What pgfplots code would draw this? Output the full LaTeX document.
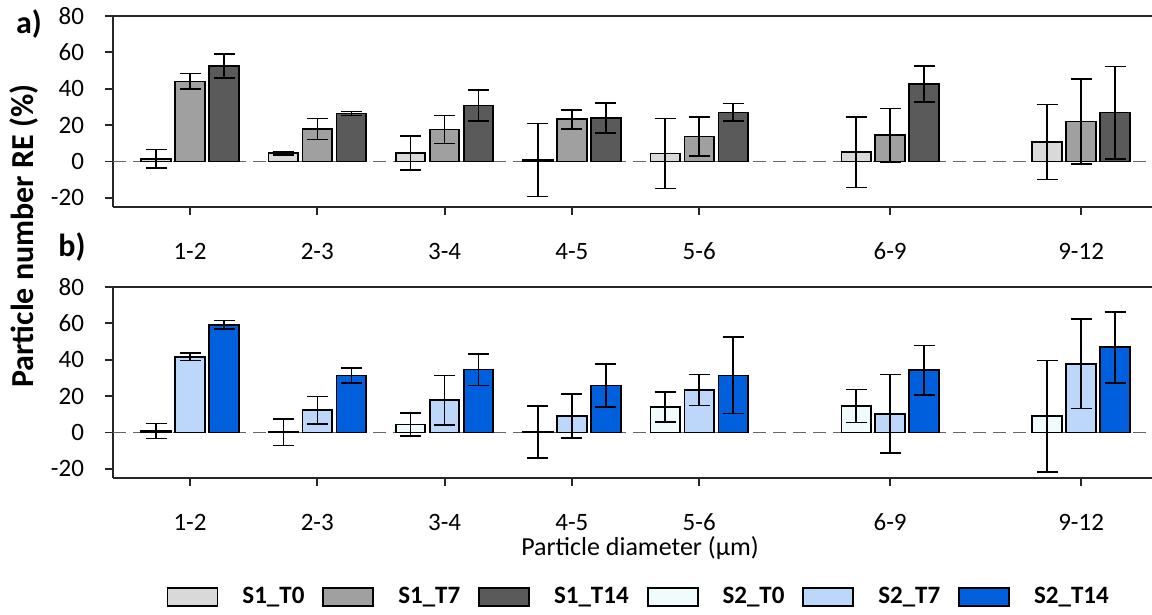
\documentclass[border=0pt]{standalone}
\usepackage{pgfplots}
\pgfplotsset{compat=1.18}
\usepackage{pgfplotstable}
\usepackage{fontspec}
\setmainfont{Carlito}

\definecolor{sAa}{HTML}{D9D9D9}
\definecolor{sAb}{HTML}{A0A0A0}
\definecolor{sAc}{HTML}{5A5A5A}
\definecolor{sBa}{HTML}{F0FBFB}
\definecolor{sBb}{HTML}{BDD7FA}
\definecolor{sBc}{HTML}{005FDC}

\pgfplotstableread{
x   v1   e1   v2   e2   v3   e3
0   1.5  5.0  44.0 4.3  52.5 6.6
1   4.5  0.8  17.8 5.8  26.4 1.2
2   4.6  9.4  17.6 7.7  30.8 8.5
3   0.8  20.0 23.2 5.2  24.0 8.2
4   4.4  19.3 13.8 10.8 27.0 4.8
5.5 5.1  19.3 14.4 14.8 42.6 9.9
7   10.7 20.6 22.0 23.2 26.9 25.4
}\dataA

\pgfplotstableread{
x   v1   e1   v2   e2   v3   e3
0   0.8  4.1  41.7 2.0  59.2 2.4
1   0.2  7.3  12.3 7.6  31.4 4.1
2   4.4  6.4  17.7 13.7 34.6 8.7
3   0.3  14.2 9.2  12.1 25.8 11.9
4   14.1 8.2  23.3 8.5  31.4 21.0
5.5 14.6 9.0  10.3 21.5 34.3 13.6
7   8.9  30.7 37.8 24.5 46.8 19.5
}\dataB

\pgfplotsset{
  panel/.style={
    scale only axis, width=519.5pt, height=95.5pt,
    xmin=-0.605, xmax=7.557, ymin=-25, ymax=80,
    axis x line*=bottom, axis y line*=left,
    axis line style={line width=0.9pt, black!85},
    tick align=outside, major tick length=4pt,
    tick style={line width=0.9pt, black!85},
    ytick={-20,0,20,40,60,80},
    xtick={0,1,2,3,4,5.5,7},
    xticklabels={1-2,2-3,3-4,4-5,5-6,6-9,9-12},
    /pgf/number format/assume math mode=true,
    ticklabel style={font=\fontsize{12.5}{15}\selectfont, text=black},
    yticklabel style={xshift=-7pt},
    xticklabel style={yshift=-10.5pt},
    ybar, bar width=0.232, clip=false,
    error bars/y dir=both, error bars/y explicit,
    error bars/error mark=|,
    error bars/error mark options={black, line width=0.8pt, mark size=5.25pt},
    error bars/error bar style={black, line width=0.8pt},
  },
  barst/.style={draw=black, line width=0.9pt, fill=#1},
}

\begin{document}
\begin{tikzpicture}
\useasboundingbox (0,0) rectangle (576pt,307.5pt);

\begin{axis}[panel, at={(56.5pt,204pt)}, anchor=south west]
\draw[black!60, line width=0.7pt, dash pattern=on 6.5pt off 3.5pt] (axis cs:-0.605,0) -- (axis cs:7.557,0);
\draw[line width=0.9pt, black!85] (rel axis cs:0,1) -- (rel axis cs:1,1);
\addplot[barst=sAa, bar shift=-0.267] table[x=x, y=v1, y error=e1] {\dataA};
\addplot[barst=sAb, bar shift=0] table[x=x, y=v2, y error=e2] {\dataA};
\addplot[barst=sAc, bar shift=0.267] table[x=x, y=v3, y error=e3] {\dataA};
\end{axis}

\begin{axis}[panel, at={(56.5pt,68.5pt)}, anchor=south west,
  legend columns=6,
  legend image code/.code={\draw[#1, draw=black, line width=0.9pt] (0pt,-4.5pt) rectangle (25pt,4.5pt);},
  legend style={at={(0.505,-0.623)}, anchor=center, draw=none, fill=none,
    font=\bfseries\fontsize{12.5}{15}\selectfont,
    nodes={inner sep=0pt},
    /tikz/every odd column/.append style={column sep=12pt},
    /tikz/every even column/.append style={column sep=9pt}}]
\draw[black!60, line width=0.7pt, dash pattern=on 6.5pt off 3.5pt] (axis cs:-0.605,0) -- (axis cs:7.557,0);
\draw[line width=0.9pt, black!85] (rel axis cs:0,1) -- (rel axis cs:1,1);
\addlegendimage{fill=sAa}\addlegendentry{S1\_T0}
\addlegendimage{fill=sAb}\addlegendentry{S1\_T7}
\addlegendimage{fill=sAc}\addlegendentry{S1\_T14}
\addplot[barst=sBa, bar shift=-0.267] table[x=x, y=v1, y error=e1] {\dataB};
\addlegendentry{S2\_T0}
\addplot[barst=sBb, bar shift=0] table[x=x, y=v2, y error=e2] {\dataB};
\addlegendentry{S2\_T7}
\addplot[barst=sBc, bar shift=0.267] table[x=x, y=v3, y error=e3] {\dataB};
\addlegendentry{S2\_T14}
\end{axis}

\node[font=\bfseries\fontsize{16}{18}\selectfont] at (14.5pt,295.5pt) {a)};
\node[font=\bfseries\fontsize{16}{18}\selectfont] at (36pt,184pt) {b)};
\node[font=\bfseries\fontsize{16}{18}\selectfont, rotate=90] at (12pt,189.5pt) {Particle number RE (\%)};
\node[font=\fontsize{13}{15}\selectfont] at (320pt,33.5pt) {Particle diameter (µm)};
\end{tikzpicture}
\end{document}
